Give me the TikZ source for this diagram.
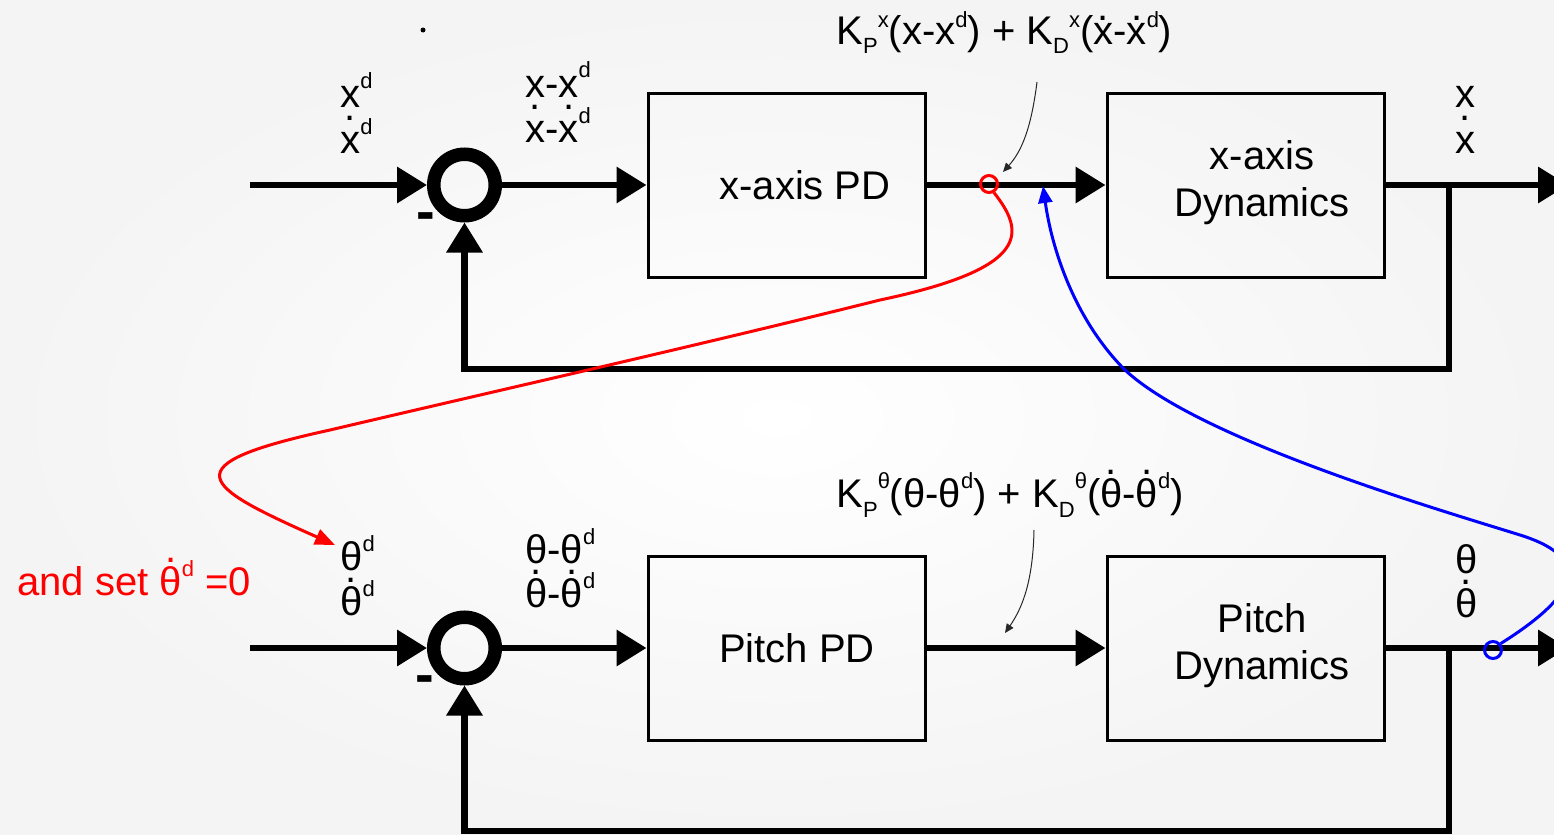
\documentclass[tikz,border=0pt]{standalone}
\usepackage{fontspec}
\setmainfont{Liberation Sans}
\usetikzlibrary{arrows.meta}
\newcommand\sps[2][9.5pt]{\raisebox{#1}{\fontsize{11}{11}\selectfont #2}}
\newcommand\sbs[1]{\raisebox{-5pt}{\fontsize{11}{11}\selectfont #1}}
\newcommand\dt[2][16.5pt]{\ooalign{#2\cr\hidewidth\raisebox{#1}{.}\hidewidth\cr}}
\definecolor{bgc}{RGB}{244,244,244}
\definecolor{annc}{RGB}{40,40,40}
\begin{document}
\begin{tikzpicture}[x=0.5pt,y=-0.5pt,
  main/.style={line width=3.3pt},
  arr/.style={-{Triangle[length=15pt,width=17.5pt]}},
  box/.style={draw, line width=1.5pt, minimum width=138.5pt, minimum height=92pt, inner sep=0pt},
  sum/.style={circle, draw, line width=6.75pt, minimum size=30.75pt, inner sep=0pt},
  lbl/.style={anchor=base west, inner sep=0pt, font=\fontsize{20}{24}\selectfont},
  btxt/.style={align=center, inner sep=0pt, font=\fontsize{20}{23.5}\selectfont},
  minus/.style={inner sep=0pt, font=\fontsize{28}{28}\selectfont\bfseries},
  ann/.style={draw=annc, line width=0.5pt, -{Triangle[length=4.5pt,width=4pt]}},
  ringmark/.style={circle, draw, line width=1.5pt, minimum size=8.5pt, inner sep=0pt},
  redc/.style={draw=red, line width=1.5pt, -{Triangle[length=10pt,width=8pt]}},
  bluec/.style={draw=blue, line width=1.5pt, -{Triangle[length=8.5pt,width=7pt]}}
]
\clip (0,0) rectangle (1554,835);
\shade[inner color=white, outer color=bgc] (0,0) rectangle (1554,835);
\fill (423,30) circle (2.5);

% ---------- top loop ----------
\node[sum] (s1) at (464.5,185) {};
\node[box] (pd1) at (786.5,185) {};
\node[box] (dy1) at (1245.5,185) {};
\node[btxt] (t1) at (805,185) {x-axis PD};
\node[btxt] (t2) at (1262,183) {x-axis\\Dynamics};
\coordinate (in1) at (250,185);
\coordinate (out1) at (1568,185);
\coordinate (br1) at (1449,185);
\coordinate (fb1) at (1449,369);
\draw[main,arr] (in1) -- (s1);
\draw[main,arr] (s1) -- (pd1);
\draw[main,arr] (pd1) -- (dy1);
\draw[main,arr] (dy1) -- (out1);
\draw[main,arr] (br1) -- (fb1) -| (s1);
\node[minus] (m1) at (426,222) {-};

\node[lbl] (l1a) at (340,107) {x\sps{d}};
\node[lbl] (l1b) at (340,153) {\dt{x}\sps{d}};
\node[lbl] (l2a) at (525,97) {x-x\sps{d}};
\node[lbl] (l2b) at (525,142) {\dt{x}-\dt{x}\sps{d}};
\node[lbl] (l3a) at (1455,107) {x};
\node[lbl] (l3b) at (1455,153) {\dt{x}};

\node[lbl] (f1) at (836,44) {K\sbs{P}\sps[8.5pt]{x}(x-x\sps[8.5pt]{d}) + K\sbs{D}\sps[8.5pt]{x}(\dt[12pt]{x}-\dt[12pt]{x}\sps[8.5pt]{d})};
\coordinate (a1s) at (1037,82);
\coordinate (a1e) at (1003,172);
\draw[ann] (a1s) .. controls (1031,130) and (1021,152) .. (a1e);

% ---------- bottom loop ----------
\node[sum] (s2) at (464.5,648) {};
\node[box] (pd2) at (786.5,648) {};
\node[box] (dy2) at (1245.5,648) {};
\node[btxt] (t3) at (797,648) {Pitch PD};
\node[btxt] (t4) at (1262,646) {Pitch\\Dynamics};
\coordinate (in2) at (250,648);
\coordinate (out2) at (1568,648);
\coordinate (br2) at (1449,648);
\coordinate (fb2) at (1449,831);
\draw[main,arr] (in2) -- (s2);
\draw[main,arr] (s2) -- (pd2);
\draw[main,arr] (pd2) -- (dy2);
\draw[main,arr] (dy2) -- (out2);
\draw[main,arr] (br2) -- (fb2) -| (s2);
\node[minus] (m2) at (425,685) {-};

\node[lbl] (l4a) at (340,570) {θ\sps{d}};
\node[lbl] (l4b) at (340,615) {\dt{θ}\sps{d}};
\node[lbl] (l5a) at (525,563) {θ-θ\sps{d}};
\node[lbl] (l5b) at (525,607) {\dt{θ}-\dt{θ}\sps{d}};
\node[lbl] (l6a) at (1455,573) {θ};
\node[lbl] (l6b) at (1455,617) {\dt{θ}};

\node[lbl] (f2) at (836,507) {K\sbs{P}\sps{θ}(θ-θ\sps{d}) + K\sbs{D}\sps{θ}(\dt{θ}-\dt{θ}\sps{d})};
\coordinate (a2s) at (1034,530);
\coordinate (a2e) at (1005,633);
\draw[ann] (a2s) .. controls (1033,580) and (1023,607) .. (a2e);

\node[lbl, text=red] (r1) at (17,595) {and set \dt{θ}\sps{d} =0};

% ---------- coupling curves ----------
\node[ringmark, draw=red] (rc) at (989,184) {};
\coordinate (rt) at (335,545);
\draw[redc] (rc.-60) .. controls (1025,232) and (1032,268) .. (880,300)
  .. controls (700,345) and (500,390) .. (330,430)
  .. controls (170,465) and (200,485) .. (rt);

\node[ringmark, draw=blue] (bc) at (1493,650) {};
\coordinate (bt) at (1043,186);
\draw[bluec] (bc.40) .. controls (1570,600) and (1600,560) .. (1520,535)
  .. controls (1440,510) and (1200,440) .. (1125,370)
  .. controls (1075,320) and (1052,250) .. (bt);
\end{tikzpicture}
\end{document}
